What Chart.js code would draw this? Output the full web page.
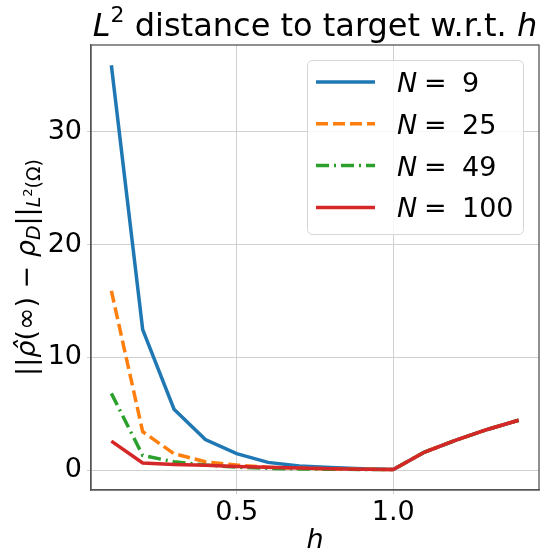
<!DOCTYPE html>
<html>
<head>
<meta charset="utf-8">
<script src="https://cdn.jsdelivr.net/npm/chart.js@4/dist/chart.umd.min.js"></script>
<style>
  html, body { margin: 0; padding: 0; background: #fff; }
  canvas { display: block; }
</style>
</head>
<body>
<canvas id="distChart" width="544" height="549"></canvas>
<script>
// h values (x axis)
const hValues = [0.1, 0.2, 0.3, 0.4, 0.5, 0.6, 0.7, 0.8, 0.9, 1.0, 1.1, 1.2, 1.3, 1.4];

// L2 distance for each grid size N
const distN9   = [35.9, 12.45, 5.4, 2.7, 1.45, 0.68, 0.35, 0.22, 0.12, 0.05, 1.6, 2.65, 3.6, 4.42];
const distN25  = [15.9, 3.4, 1.45, 0.73, 0.44, 0.25, 0.15, 0.1, 0.07, 0.05, 1.6, 2.65, 3.6, 4.42];
const distN49  = [6.8, 1.3, 0.73, 0.45, 0.25, 0.15, 0.1, 0.07, 0.05, 0.05, 1.6, 2.65, 3.6, 4.42];
const distN100 = [2.56, 0.62, 0.5, 0.42, 0.32, 0.25, 0.18, 0.12, 0.08, 0.05, 1.6, 2.65, 3.6, 4.42];

const seriesLabels = ['9', '25', '49', '100'];
const xTickValues = [0.5, 1.0];
const yTickValues = [0, 10, 20, 30];

const colors = ['#1f77b4', '#ff7f0e', '#2ca02c', '#d62728'];
const dashes = [[], [12, 5], [13, 5, 2, 5], []];
const FONT = '"DejaVu Sans", sans-serif';

function points(ys) {
    return hValues.map((h, i) => ({ x: h, y: ys[i] }));
}

// draw a row of text pieces (normal / italic / sub / superscript)
function drawRuns(ctx, runs, x, y, align, base) {
    let total = 0;
    runs.forEach(r => {
        ctx.font = (r.it ? 'italic ' : '') + (r.size || base || 27) + 'px ' + FONT;
        r.w = ctx.measureText(r.t).width;
        total += r.w;
    });
    let cx = align === 'center' ? x - total / 2 : x;
    ctx.textAlign = 'left';
    ctx.textBaseline = 'alphabetic';
    runs.forEach(r => {
        ctx.font = (r.it ? 'italic ' : '') + (r.size || base || 27) + 'px ' + FONT;
        ctx.fillText(r.t, cx, y + (r.dy || 0));
        cx += r.w;
    });
}

const textPlugin = {
    id: 'textPlugin',
    afterDraw(chart) {
        const ctx = chart.ctx;
        const area = chart.chartArea;
        const midX = (area.left + area.right) / 2;
        ctx.save();

        // frame on all four sides
        ctx.strokeStyle = '#555';
        ctx.lineWidth = 1.3;
        ctx.strokeRect(area.left, area.top, area.right - area.left, area.bottom - area.top);

        ctx.fillStyle = '#000';

        // title
        drawRuns(ctx, [
            { t: 'L', it: true },
            { t: '2', size: 22, dy: -14 },
            { t: ' distance to target w.r.t. ' },
            { t: 'h', it: true }
        ], midX, 36, 'center', 32);

        // x label
        drawRuns(ctx, [{ t: 'h', it: true }], midX, 548, 'center');

        // y label
        ctx.save();
        ctx.translate(35, (area.top + area.bottom) / 2);
        ctx.rotate(-Math.PI / 2);
        drawRuns(ctx, [
            { t: '||' },
            { t: 'ρ\u0302', it: true },
            { t: '(∞) − ' },
            { t: 'ρ', it: true },
            { t: 'D', it: true, size: 19, dy: 5 },
            { t: '||' },
            { t: 'L', it: true, size: 19, dy: 5 },
            { t: '2', size: 13, dy: -3 },
            { t: '(Ω)', size: 19, dy: 5 }
        ], 0, 0, 'center');
        ctx.restore();

        // legend
        const bx = 307, by = 60, bw = 216, bh = 174;
        ctx.fillStyle = 'rgba(255,255,255,0.8)';
        ctx.strokeStyle = '#d6d6d6';
        ctx.lineWidth = 1;
        ctx.beginPath();
        ctx.roundRect(bx + 0.5, by + 0.5, bw, bh, 5);
        ctx.fill();
        ctx.stroke();
        seriesLabels.forEach((lab, i) => {
            const ry = 82 + i * 41.8;
            ctx.strokeStyle = colors[i];
            ctx.lineWidth = 3.5;
            ctx.setLineDash(dashes[i]);
            ctx.beginPath();
            ctx.moveTo(316, ry);
            ctx.lineTo(375, ry);
            ctx.stroke();
            ctx.setLineDash([]);
            ctx.fillStyle = '#000';
            drawRuns(ctx, [{ t: 'N', it: true }], 397, ry + 10, 'left');
            drawRuns(ctx, [{ t: '=' }], 424, ry + 10, 'left');
            drawRuns(ctx, [{ t: lab }], 462, ry + 10, 'left');
        });
        ctx.restore();
    }
};

const datasets = [distN9, distN25, distN49, distN100].map((ys, i) => ({
    label: 'N = ' + seriesLabels[i],
    data: points(ys),
    borderColor: colors[i],
    backgroundColor: colors[i],
    borderDash: dashes[i],
    borderWidth: 3.5,
    pointRadius: 0,
    tension: 0,
    fill: false,
    order: 4 - i
}));

const config = {
    type: 'line',
    data: { datasets: datasets },
    options: {
        responsive: false,
        animation: false,
        layout: { padding: { left: 0, right: 5, top: 45, bottom: 0 } },
        plugins: {
            legend: { display: false },
            tooltip: { enabled: false }
        },
        scales: {
            x: {
                type: 'linear',
                min: 0.035,
                max: 1.465,
                afterBuildTicks: s => { s.ticks = xTickValues.map(v => ({ value: v })); },
                afterFit: s => { s.height = 59; },
                ticks: {
                    font: { family: FONT, size: 27 },
                    color: '#000',
                    padding: 3,
                    maxRotation: 0,
                    callback: v => v.toFixed(1)
                },
                grid: { color: '#d0d0d0', lineWidth: 1, tickLength: 4 },
                border: { color: '#555', width: 1.3 }
            },
            y: {
                type: 'linear',
                min: -1.77,
                max: 37.7,
                afterBuildTicks: s => { s.ticks = yTickValues.map(v => ({ value: v })); },
                afterFit: s => { s.width = 91; },
                ticks: {
                    font: { family: FONT, size: 27 },
                    color: '#000',
                    padding: 5,
                    callback: v => String(v)
                },
                grid: { color: '#d0d0d0', lineWidth: 1, tickLength: 4 },
                border: { color: '#555', width: 1.3 }
            }
        }
    },
    plugins: [textPlugin]
};

window.onload = function() {
    const ctx = document.getElementById('distChart').getContext('2d');
    new Chart(ctx, config);
};
</script>
</body>
</html>
